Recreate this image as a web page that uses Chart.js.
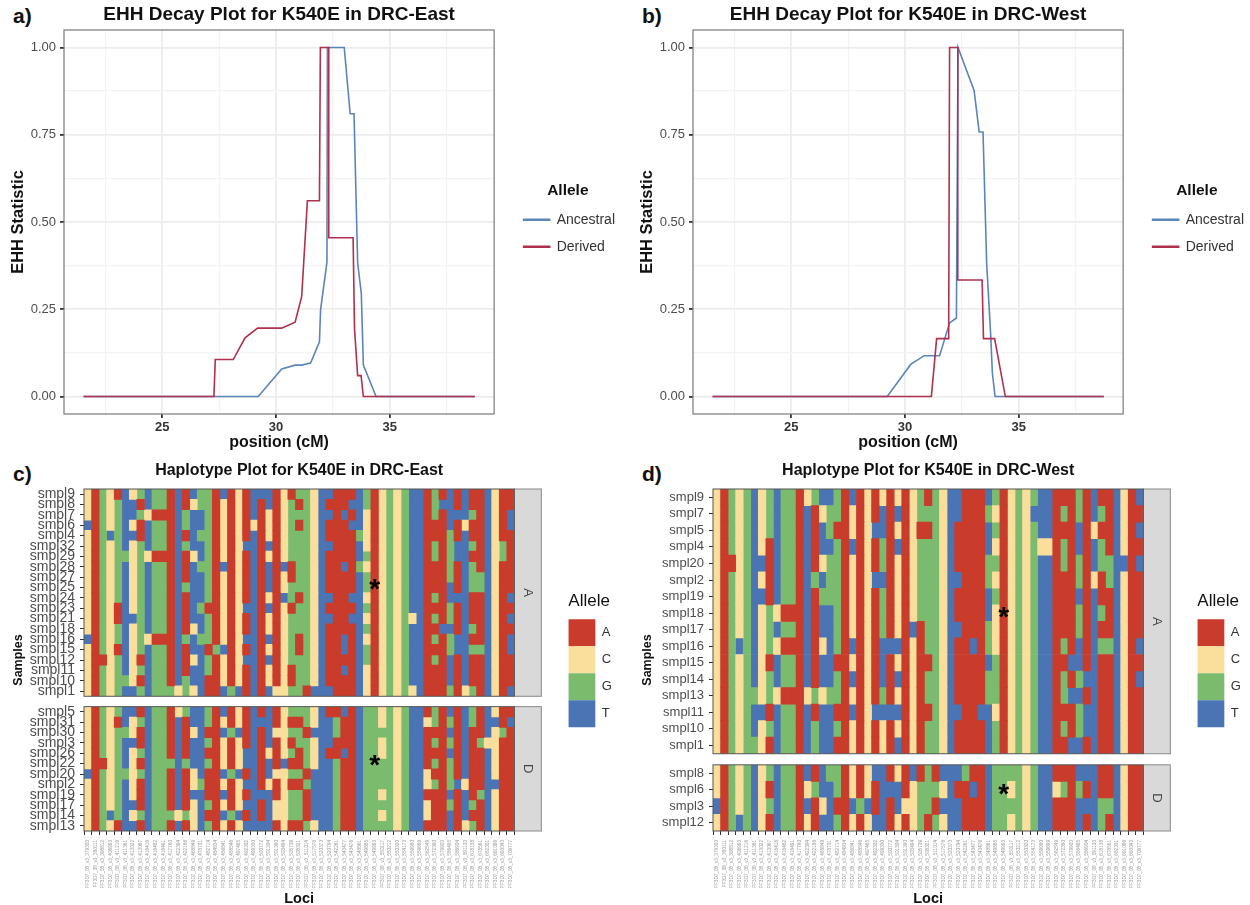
<!DOCTYPE html>
<html>
<head>
<meta charset="utf-8">
<title>EHH decay and haplotype plots for K540E</title>
<script src="https://cdn.jsdelivr.net/npm/chart.js@4"></script>
<style>
  html, body { margin: 0; padding: 0; background: #fff; width: 1250px; height: 905px; overflow: hidden; }
  canvas { position: absolute; }
  .tag { position: absolute; font: bold 21px "Liberation Sans", sans-serif; color: #111; line-height: 24px; }
</style>
</head>
<body>
<div class="tag" style="left:13px;top:4px">a)</div>
<div class="tag" style="left:642px;top:4px">b)</div>
<div class="tag" style="left:13px;top:462px">c)</div>
<div class="tag" style="left:642px;top:462px">d)</div>
<canvas id="chartA" style="left:0;top:0" width="625" height="450"></canvas>
<canvas id="chartB" style="left:629px;top:0" width="625" height="450"></canvas>
<canvas id="chartC" style="left:0;top:458px" width="620" height="447"></canvas>
<canvas id="chartD" style="left:629px;top:458px" width="620" height="447"></canvas>
<script>
// EHH curves
const eastAncestralX = [21.54, 29.22, 30.25, 30.84, 31.13, 31.52, 31.91, 31.96, 32.24, 32.26, 33.0, 33.26, 33.43, 33.59, 33.75, 33.84, 34.4, 38.74];
const eastAncestralY = [0, 0, 0.079, 0.09, 0.09, 0.096, 0.157, 0.249, 0.385, 1, 1, 0.81, 0.81, 0.382, 0.296, 0.09, 0, 0];
const eastDerivedX = [21.54, 27.27, 27.33, 28.12, 28.64, 29.19, 30.25, 30.84, 31.13, 31.38, 31.91, 31.95, 32.32, 32.32, 33.39, 33.45, 33.59, 33.74, 33.84, 38.74];
const eastDerivedY = [0, 0, 0.106, 0.106, 0.168, 0.196, 0.196, 0.213, 0.287, 0.561, 0.561, 1, 1, 0.455, 0.455, 0.196, 0.06, 0.06, 0, 0];
const westAncestralX = [21.54, 29.22, 30.25, 30.84, 31.52, 31.96, 32.26, 32.33, 33.04, 33.26, 33.43, 33.59, 33.77, 33.84, 33.96, 38.74];
const westAncestralY = [0, 0, 0.092, 0.117, 0.117, 0.211, 0.225, 1, 0.876, 0.758, 0.758, 0.382, 0.173, 0.068, 0, 0];
const westDerivedX = [21.54, 31.16, 31.39, 31.92, 31.96, 32.32, 32.32, 33.39, 33.45, 33.94, 34.41, 38.74];
const westDerivedY = [0, 0, 0.166, 0.166, 1, 1, 0.334, 0.334, 0.166, 0.166, 0, 0];

const xGridTicks = [22.5, 25, 27.5, 30, 32.5, 35, 37.5];
const xLabelTicks = [25, 30, 35];
const yGridTicks = [0, 0.125, 0.25, 0.375, 0.5, 0.625, 0.75, 0.875, 1];
const yLabelTicks = [0, 0.25, 0.5, 0.75, 1];

const alleles = ['A', 'C', 'G', 'T'];
const alleleColors = ['#C93B2B', '#FADE9B', '#7BBB6D', '#4B74B5'];

// last 6 digits are hard to read at this size, best guess
const lociPos = ['379303', '380111', '398812', '406993', '411216', '411361', '413022', '413067', '416416', '416482',
  '416491', '417760', '422394', '422186', '468849', '478701', '482714', '484934', '486841', '488546',
  '497465', '492302', '499330', '500772', '501304', '501390', '503494', '505709', '508321', '511014',
  '517576', '520373', '520794', '542261', '543477', '543476', '548861', '549885', '549993', '550117',
  '550212', '550320', '554173', '559980', '559699', '562549', '572390', '579903', '586495', '586904',
  '591103', '618138', '678561', '682301', '691086', '693043', '706777'];
const loci = lociPos.map(p => 'PF3D7_08_v3_' + p);

const eastSamplesA = ['smpl9', 'smpl8', 'smpl7', 'smpl6', 'smpl4', 'smpl32', 'smpl29', 'smpl28', 'smpl27', 'smpl25', 'smpl24', 'smpl23', 'smpl21', 'smpl18', 'smpl16', 'smpl15', 'smpl12', 'smpl11', 'smpl10', 'smpl1'];
const eastHapA = [
  'CAGCATCGTG GATATGGATA CATTTACAGG CTTAAATGAC GCGTTAGATA TAATCAA',
  'CAGCGTTATG GATACGGACA CATATACGAG CTAAATTGAC GCGTTAGTTA TAATCAA',
  'CAGCGTTGCA AATGTTGACA CATACACGGG CTTATATCAC GCGTTAGATT TGATCAT',
  'TAGCGTCATG GATGTTGACA CACACACGAG CTAAATTCAC GCGTTAAATA CAATCAT',
  'CAGTGTTATG GATATGGACA CATACACGGG CTAAAAGCAC GCGTTAAAGA TAATCAA',
  'CAGCGTCGTG GATGTTGACA CTTATACGGG CTTAAATCAC GCGTTAGAGT TGATCGA',
  'CAGCGGCGCA AATACTGACA CATACACGGG CTAAAATGAC GCGTTAGAGT TAATCGA',
  'CAGCGTCGTG GATATGGATA CATATATAGG CTAATAGCAC GCGTTAAAGA TGATCAA',
  'CAGCGTCGTG GATATTGACA CATATACAGG CTAAAATGAC GCGTTAAAGA TGGTCAA',
  'CAGCGTCGTG GATGTTGACA CATATACGGG CTAAAATGAC GCGTTAAATA TGGTCAA',
  'CAGCGTCGTG GATATTGACA CATACATGAG CTTAATTCAC GCGTTAGATT TAATCAT',
  'CAGCATCGTG GATATGAACA CTTATACAGG CTAAAATGAC GCGTTAAAGA TAATCAA',
  'CAGCATTGTG GATATTGACA CATACACGGG CTTAATTCAC GCGCTAGAGA TAATCAT',
  'CAGCGTCGTG GATACTGACA CATACACGGG CTAAAATGAC GCGTTAATTA TGATCAA',
  'TAGCGTCGCA AATGTGGACA CTTATACGAG CTAATATCAC GCGTTAGAGT TAATCAT',
  'CAGCATCGTG GATATTAGTA CATACACGAG CTAATATGAC GCGTTAAAGT TGGTCAT',
  'CAACGTCATG GATACTGACA CTTATACGGG CTAAAATGAC GCGTTAGATA TAATCAA',
  'CAGCGTCGTG GATATTGACA CATACACAGG CTAATATCAC GCGTTAAATA TAATCAA',
  'CAGCGGCATG GATGTTAACA CATACACAGG CTAAAATCAC GCGTTAAATA TAATCAA',
  'CAGCGTTGTG GGCGCTAATG TATATCCGGA TTTAAATCAC GCGCTAAAGA CGATCAT'
];
const eastSamplesD = ['smpl5', 'smpl31', 'smpl30', 'smpl3', 'smpl26', 'smpl22', 'smpl20', 'smpl2', 'smpl19', 'smpl17', 'smpl14', 'smpl13'];
const eastHapD = [
  'CAGCGTTATG GACGTTGATA CATATACGGG CTAATATGGC GCGTTAGATA TGATCAA',
  'CAGCATCGTG GATATTGACA CATTTACAAG CTTGAATGGC GCGTTCGAGA TGATTAT',
  'CAGCGGCATG GATACTAATG TATATCCGGA TTTGAATGGG GCGTTAAATA TAATCGA',
  'CAGCGTTATG GATATTGACA CATATACAGG CTTAAATGGC GCGTTAGAGA TAGCCAA',
  'CAGCGTCGTG GATATTAACA CTTACACGAG CTAATATGGC GCGTTAAATA TAATCAA',
  'CAACGTCATG GGTGTTGACA CTTATATAAG CTTGAATGGG GCGTTAGAGA TAATCAA',
  'TAGCGGCGTG GATACTAATG TATATCCGGA TTTGAATGGG GCGTTCAAGA TAATCAA',
  'CAGCGTCATG GATACGAACA CTTACACAAG TTTGAATGGG GCGTTCGAGT CAATTAA',
  'CAGCGTCATG GATATTAATA CATTTACGGA TTTGAATGGC GCGTTAAATA TAGTCAA',
  'CAGCGTTATG GATACTGACA CTTATCCGGA TTTGAATGGG GCGTTCAAGA TGATCAA',
  'CAGTGTCGTG GGCGCTAATG TATATCCGGA TTTGAATGGC GCGTTCAATA TAATCAA',
  'CAGCATTATG GATACTGACA CTTTTACAAG CTTGAATGGG GCGTTAAATA CGATCAA'
];
const westSamplesA = ['smpl9', 'smpl7', 'smpl5', 'smpl4', 'smpl20', 'smpl2', 'smpl19', 'smpl18', 'smpl17', 'smpl16', 'smpl15', 'smpl14', 'smpl13', 'smpl11', 'smpl10', 'smpl1'];
const westHapA = [
  'CAGCGTCGTG GACGTTGATA CACACACGAG CTTAAATGAC GCGTTAAAGA TAATCAT',
  'CAGCGTCGTG GATACGGACA CATATACGGG CTTAAAGCAC GCTTTAGAGA TGATCAA',
  'CAGCGTCGTG GATATGAACA CTTACACAAG CTAAAATGAC GCGTTAAATA CAATCAT',
  'CAGCGTCATG GATATTGATA CAGATACGGG CTAAAATCAC GCGCCAGATA TGATCAA',
  'CAACGTTATG GATACGGACA CAGACACGGG CTAAAAGGAC GCGTTAGAGA TGGTTAT',
  'CAGCGTCATG GATGTGGACA CTTACACGGG CTTAAAGCAC GCGTTAAAGA CAGTCAA',
  'CAGCGTTATG GATAGGGACA CAGACACGGG CTAAAATGAC GCGTTAAATA TAATCAA',
  'CAGCGTCGCA AATATTGACA CAGACACGGG CTAAAATCAC GCGTTAAAGA TGATCAA',
  'CAGCGTCGTG GATATTGACA CAGACATAGG CTTAAAGCAC GCGTTAAAGA TAATCAA',
  'CAGTGTCGCA AATACTGATA CATTTACAGG CTAATAGCAC GCGTTAGATA TGGTCAT',
  'CAGCGTCATG GATATTAACA CATACACAAG CTAAAATGAC GCGTTAATTA TAATCAA',
  'CAGCGTCGTG GATATTGATA CATATACAGG CTAAAAGGAC GCGTTAGAGT TAATCAT',
  'CAGCGGCGCA AACGCGGACA CAGACACAGG CTAAAAGGAC GCGTTAGTTA TAATCAA',
  'CAGCGTTATG GATATTAATA CTTTTACAAG CTTAATTCAC GCGTTAAAGT TAATCAA',
  'CAGCGTCGTG GATGTTGACA CACACACAGG CTAAAATGAC GCGTTAGAGT TAATCAA',
  'CAGCGGCATG GATGTTAACA CACATACAGG CTAAAATGAC GCGTTAATTA TAATCAA'
];
const westSamplesD = ['smpl8', 'smpl6', 'smpl3', 'smpl12'];
const westHapD = [
  'CAGCGTCGTG GATATGGACA CTTACATAGA TTTGAATGGG GCGTTAAATT TAATCAA',
  'CAGCGTCATG GACGTTGACA CATTTACGGG CTAATATGGC GCGTTCGAGA TAATCAA',
  'TAGCGTCGTG GATACTAATG TATATCCGGA TTTAAATGGG GCGTTAAATT TGGTCAA',
  'CAGTGTCATG GACATTGACA CTTACACGAG CTTAAATGGC GCGTTAAATA TGATCAA'
];

// locus and sample rows that carry the K540E star
const starLocus = 38;
const eastStarRows = { yA: 8.9, yD: 4.9 };
const westStarRows = { yA: 7.1, yD: 1.1 };

Chart.defaults.font.family = '"Liberation Sans", Arial, sans-serif';
Chart.defaults.animation = false;

const PLOT_LEFT = 84;

// grey panel outline, facet strips and stars
function facetPlugin(strips, stars) {
  return {
    id: 'facets',
    afterDatasetsDraw(chart) {
      const ctx = chart.ctx;
      const a = chart.chartArea;
      ctx.save();
      strips.forEach(s => {
        const sc = chart.scales[s.scale];
        ctx.fillStyle = '#D9D9D9';
        ctx.fillRect(a.right, sc.top, 27, sc.bottom - sc.top);
        ctx.strokeStyle = '#8a8a8a';
        ctx.lineWidth = 1;
        ctx.strokeRect(a.right, sc.top, 27, sc.bottom - sc.top);
        ctx.strokeStyle = '#555';
        ctx.strokeRect(a.left, sc.top, a.right - a.left, sc.bottom - sc.top);
        ctx.save();
        ctx.translate(a.right + 13.5, (sc.top + sc.bottom) / 2);
        ctx.rotate(Math.PI / 2);
        ctx.fillStyle = '#444';
        ctx.font = '13px "Liberation Sans"';
        ctx.textAlign = 'center';
        ctx.textBaseline = 'middle';
        ctx.fillText(s.label, 0, 0);
        ctx.restore();
      });
      ctx.fillStyle = '#000';
      ctx.font = 'bold 28px "Liberation Sans"';
      ctx.textAlign = 'center';
      ctx.textBaseline = 'middle';
      Object.keys(stars).forEach(id => {
        const x = chart.scales.x.getPixelForValue(starLocus);
        const y = chart.scales[id].getPixelForValue(stars[id]);
        ctx.fillText('*', x, y + 4);
      });
      ctx.restore();
    }
  };
}

const panelBorder = {
  id: 'panelBorder',
  afterDatasetsDraw(chart) {
    const a = chart.chartArea;
    chart.ctx.save();
    chart.ctx.strokeStyle = '#7a7a7a';
    chart.ctx.lineWidth = 1.2;
    chart.ctx.strokeRect(a.left, a.top, a.right - a.left, a.bottom - a.top);
    chart.ctx.restore();
  }
};

function drawDecay(id, titleText, ancX, ancY, derX, derY) {
  new Chart(document.getElementById(id), {
    type: 'line',
    data: {
      datasets: [
        { label: 'Ancestral', data: ancX.map((x, i) => ({ x: x, y: ancY[i] })), borderColor: '#5B85B9', backgroundColor: '#5B85B9', borderWidth: 1.6, pointRadius: 0, tension: 0, order: 2 },
        { label: 'Derived', data: derX.map((x, i) => ({ x: x, y: derY[i] })), borderColor: '#B0304E', backgroundColor: '#B0304E', borderWidth: 1.6, pointRadius: 0, tension: 0, order: 1 }
      ]
    },
    options: {
      responsive: false,
      layout: { padding: 0 },
      scales: {
        x: {
          type: 'linear', min: 20.68, max: 39.59,
          afterBuildTicks: s => { s.ticks = xGridTicks.map(v => ({ value: v })); },
          afterFit: s => { s.height = 36; },
          ticks: { autoSkip: false, maxRotation: 0, color: '#333', padding: 2, font: { size: 13, weight: 'bold' }, callback: v => xLabelTicks.includes(v) ? String(v) : '' },
          grid: {
            color: c => xLabelTicks.includes(c.tick.value) ? '#ECECEC' : '#F3F3F3',
            lineWidth: c => xLabelTicks.includes(c.tick.value) ? 1.8 : 1.2,
            tickColor: c => xLabelTicks.includes(c.tick.value) ? '#333' : 'rgba(0,0,0,0)',
            tickLength: 4
          },
          border: { display: false },
          title: { display: true, text: 'position (cM)', color: '#111', font: { size: 16, weight: 'bold' }, padding: { top: 0, bottom: -2 } }
        },
        y: {
          type: 'linear', min: -0.05, max: 1.05,
          afterBuildTicks: s => { s.ticks = yGridTicks.map(v => ({ value: v })); },
          afterFit: s => { s.width = 64; },
          ticks: { autoSkip: false, color: '#4D4D4D', padding: 4, font: { size: 13 }, callback: v => yLabelTicks.includes(v) ? v.toFixed(2) : '' },
          grid: {
            color: c => yLabelTicks.includes(c.tick.value) ? '#ECECEC' : '#F3F3F3',
            lineWidth: c => yLabelTicks.includes(c.tick.value) ? 1.8 : 1.2,
            tickColor: c => yLabelTicks.includes(c.tick.value) ? '#333' : 'rgba(0,0,0,0)',
            tickLength: 4
          },
          border: { display: false },
          title: { display: true, text: 'EHH Statistic', color: '#111', font: { size: 16.5, weight: 'bold' }, padding: { top: 9, bottom: 0 } }
        },
        gap: {
          type: 'linear', position: 'right', display: true,
          afterFit: s => { s.width = 16.5; },
          ticks: { display: false }, grid: { display: false }, border: { display: false }
        }
      },
      plugins: {
        title: { display: true, fullSize: false, text: titleText, color: '#111', font: { size: 19, weight: 'bold' }, padding: { top: 3, bottom: 4.2 } },
        tooltip: { enabled: false },
        legend: {
          position: 'right',
          maxWidth: 140,
          title: { display: true, text: 'Allele', color: '#111', position: 'center', font: { size: 15.5, weight: 'bold' }, padding: { top: 0, bottom: -2 } },
          labels: { boxWidth: 26, boxHeight: 1, padding: 13, color: '#333', font: { size: 14 }, sort: (a, b) => a.datasetIndex - b.datasetIndex }
        }
      }
    },
    plugins: [panelBorder]
  });
}

function hapCells(rows, allele) {
  const out = [];
  rows.forEach((row, i) => {
    row.replace(/ /g, '').split('').forEach((c, j) => {
      if (c === allele) out.push({ x: loci[j], y: [i - 0.5, i + 0.5] });
    });
  });
  return out;
}

function facetAxis(samples, weight, fontSize) {
  return {
    type: 'linear', position: 'left', stack: 'rows', stackWeight: weight, reverse: true,
    min: -0.5, max: samples.length - 0.5,
    afterBuildTicks: s => { s.ticks = samples.map((n, i) => ({ value: i })); },
    afterFit: s => { s.width = PLOT_LEFT - 28; },
    ticks: { autoSkip: false, color: '#4D4D4D', padding: 5, font: { size: fontSize }, callback: v => samples[v] },
    grid: { display: true, drawOnChartArea: false, tickColor: '#333', tickLength: 4 },
    border: { display: false }
  };
}

function drawHaplotypes(id, titleText, samplesA, hapA, samplesD, hapD, stars, gapWeight, weightA, weightD, fontSize) {
  const sets = [];
  [['yA', hapA], ['yD', hapD]].forEach(pair => {
    alleles.forEach((al, k) => {
      sets.push({
        label: al, yAxisID: pair[0], data: hapCells(pair[1], al), backgroundColor: alleleColors[k],
        borderWidth: 0, grouped: false, barPercentage: 1, categoryPercentage: 1
      });
    });
  });
  new Chart(document.getElementById(id), {
    type: 'bar',
    data: { labels: loci, datasets: sets },
    options: {
      responsive: false,
      layout: { padding: 0 },
      scales: {
        x: {
          type: 'category', offset: true,
          afterFit: s => { s.height = 74; },
          ticks: { autoSkip: false, minRotation: 90, maxRotation: 90, color: '#999', padding: 5, font: { size: 4.7 } },
          grid: { display: true, drawOnChartArea: false, tickColor: '#333', tickLength: 4 },
          border: { display: false },
          title: { display: true, text: 'Loci', color: '#111', font: { size: 14.5, weight: 'bold' }, padding: { top: 0, bottom: -3 } }
        },
        yD: facetAxis(samplesD, weightD, fontSize),
        gapRow: {
          type: 'linear', position: 'left', stack: 'rows', stackWeight: gapWeight, display: true,
          ticks: { display: false }, grid: { display: false }, border: { display: false }
        },
        yA: facetAxis(samplesA, weightA, fontSize),
        ySide: {
          type: 'linear', position: 'left', display: true,
          afterFit: s => { s.width = 28; },
          ticks: { display: false }, grid: { display: false }, border: { display: false },
          title: { display: true, text: 'Samples', color: '#111', font: { size: 12.5, weight: 'bold' }, padding: { top: 11, bottom: 0 } }
        },
        gap: {
          type: 'linear', position: 'right', display: true,
          afterFit: s => { s.width = 54; },
          ticks: { display: false }, grid: { display: false }, border: { display: false }
        }
      },
      plugins: {
        title: { display: true, fullSize: false, text: titleText, color: '#111', font: { size: 16, weight: 'bold' }, padding: { top: 3, bottom: 8.8 } },
        tooltip: { enabled: false },
        legend: {
          position: 'right',
          fullSize: false,
          title: { display: true, text: 'Allele', color: '#111', position: 'start', font: { size: 17 }, padding: { top: 0, bottom: 6 } },
          labels: { boxWidth: 27, boxHeight: 27, padding: 0, color: '#333', font: { size: 13 }, filter: item => item.datasetIndex < 4 }
        }
      }
    },
    plugins: [facetPlugin([{ scale: 'yA', label: 'A' }, { scale: 'yD', label: 'D' }], stars)]
  });
}

drawDecay('chartA', 'EHH Decay Plot for K540E in DRC-East', eastAncestralX, eastAncestralY, eastDerivedX, eastDerivedY);
drawDecay('chartB', 'EHH Decay Plot for K540E in DRC-West', westAncestralX, westAncestralY, westDerivedX, westDerivedY);
drawHaplotypes('chartC', 'Haplotype Plot for K540E in DRC-East', eastSamplesA, eastHapA, eastSamplesD, eastHapD, eastStarRows, 1, 20, 12, 14);
drawHaplotypes('chartD', 'Haplotype Plot for K540E in DRC-West', westSamplesA, westHapA, westSamplesD, westHapD, westStarRows, 0.67, 16, 4, 13);
</script>
</body>
</html>
